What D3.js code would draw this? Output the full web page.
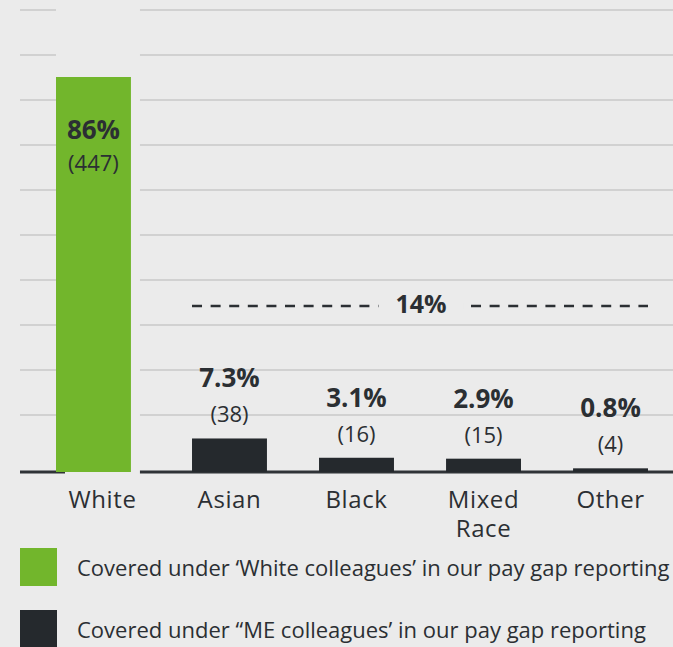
<!DOCTYPE html>
<html>
<head>
<meta charset="utf-8">
<script src="https://cdn.jsdelivr.net/npm/d3@7"></script>
<style>
  body { margin: 0; background: #ebebeb; }
  svg { display: block; font-family: "Open Sans", sans-serif; }
</style>
</head>
<body>
<svg id="chart" width="673" height="647"></svg>
<script>
'use strict';

// data
var categories = ["White", "Asian", "Black", "Mixed Race", "Other"];
var shares = [86, 7.3, 3.1, 2.9, 0.8];
var counts = [447, 38, 16, 15, 4];
var groups = ["white", "me", "me", "me", "me"];
var meTotalLabel = "14%";
var legendLabels = [
  "Covered under \u2018White colleagues\u2019 in our pay gap reporting",
  "Covered under \u201CME colleagues\u2019 in our pay gap reporting"
];
var legendGroups = ["white", "me"];
var gridLines = d3.range(10);

var colors = { white: "#72b62c", me: "#25292d" };
var bg = "#ebebeb";
var textColor = "#2b2f33";

var svg = d3.select("#chart");
var width = 673;
var left = 20;
var baseY = 472;
var whiteShift = -9;   // the white bar sits a little left of its label

var x = d3.scaleBand()
  .domain(categories)
  .range([65, 648])
  .paddingInner(0.41);

var y = d3.scaleLinear()
  .domain([0, 86])
  .range([baseY, 77]);

var gridY = d3.scaleLinear()
  .domain([0, 9])
  .range([415, 10]);

var rows = categories.map(function(c, i) {
  return { cat: c, share: shares[i], count: counts[i], group: groups[i] };
});

var bx = function(d) {
  return x(d.cat) + (d.group === "white" ? whiteShift : 0);
};

// grid
svg.append("g").selectAll("line")
  .data(gridLines)
.enter().append("line")
  .attr("x1", left).attr("x2", width)
  .attr("y1", function(d) { return gridY(d); })
  .attr("y2", function(d) { return gridY(d); })
  .attr("stroke", "#c8c8c8")
  .attr("stroke-width", 1.6);

// baseline
svg.append("line")
  .attr("x1", left).attr("x2", width)
  .attr("y1", baseY).attr("y2", baseY)
  .attr("stroke", "#2f3337")
  .attr("stroke-width", 3);

// gap behind the white bar
svg.append("rect")
  .attr("x", x("White") + whiteShift)
  .attr("y", 0)
  .attr("width", x.bandwidth() - whiteShift)
  .attr("height", baseY - 2)
  .attr("fill", bg);
svg.append("rect")
  .attr("x", x("White"))
  .attr("y", baseY - 3)
  .attr("width", x.bandwidth())
  .attr("height", 6)
  .attr("fill", bg);

// bars
svg.append("g").selectAll("rect")
  .data(rows)
.enter().append("rect")
  .attr("x", bx)
  .attr("y", function(d) { return y(d.share); })
  .attr("width", x.bandwidth())
  .attr("height", function(d) { return baseY - y(d.share); })
  .attr("fill", function(d) { return colors[d.group]; });

// value labels
var labels = svg.append("g").attr("fill", textColor).attr("text-anchor", "middle");

labels.selectAll(".pct")
  .data(rows)
.enter().append("text")
  .attr("class", "pct")
  .attr("x", function(d) { return bx(d) + x.bandwidth() / 2; })
  .attr("y", function(d) {
    return d.group === "white" ? y(d.share) + 62 : y(d.share) - 51;
  })
  .attr("font-size", 26)
  .attr("font-weight", 700)
  .text(function(d) { return d.share + "%"; });

labels.selectAll(".cnt")
  .data(rows)
.enter().append("text")
  .attr("class", "cnt")
  .attr("x", function(d) { return bx(d) + x.bandwidth() / 2; })
  .attr("y", function(d) {
    return d.group === "white" ? y(d.share) + 94 : y(d.share) - 16;
  })
  .attr("font-size", 22)
  .text(function(d) { return "(" + d.count + ")"; });

// category labels, one text per line
var cats = svg.append("g").attr("fill", textColor).attr("text-anchor", "middle")
  .attr("font-size", 24)
  .attr("letter-spacing", 0.6);
rows.forEach(function(d) {
  d.cat.split(" ").forEach(function(w, i) {
    cats.append("text")
      .attr("x", x(d.cat) + x.bandwidth() / 2)
      .attr("y", 508 + i * 29)
      .text(w);
  });
});

// ME total annotation
var annY = 306;
var ax1 = x("Asian");
var ax2 = x("Other") + x.bandwidth();
var ann = svg.append("g");
ann.append("line")
  .attr("x1", ax1).attr("x2", ax2)
  .attr("y1", annY).attr("y2", annY)
  .attr("stroke", textColor)
  .attr("stroke-width", 2.5)
  .attr("stroke-dasharray", "10,8.6");
var annGap = ann.append("rect").attr("fill", bg);
var annText = ann.append("text")
  .attr("x", (ax1 + ax2) / 2 + 1)
  .attr("y", annY + 7)
  .attr("text-anchor", "middle")
  .attr("font-size", 25)
  .attr("font-weight", 700)
  .attr("fill", textColor)
  .text(meTotalLabel);
var bb = annText.node().getBBox();
annGap
  .attr("x", bb.x - 17).attr("y", annY - 3)
  .attr("width", bb.width + 34).attr("height", 6);

// legend
var legend = svg.append("g").selectAll("g")
  .data(legendLabels)
.enter().append("g")
  .attr("transform", function(d, i) { return "translate(0," + (548 + i * 62) + ")"; });
legend.append("rect")
  .attr("x", left).attr("y", 0)
  .attr("width", 37).attr("height", 38)
  .attr("fill", function(d, i) { return colors[legendGroups[i]]; });
legend.append("text")
  .attr("x", 77).attr("y", 28)
  .attr("font-size", 22)
  .attr("fill", textColor)
  .text(function(d) { return d; });
</script>
</body>
</html>
